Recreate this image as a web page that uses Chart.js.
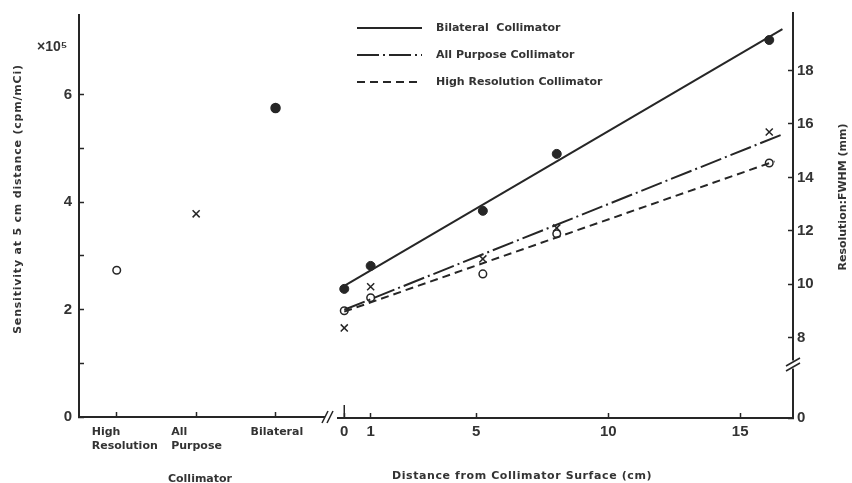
<!DOCTYPE html>
<html>
<head>
<meta charset="utf-8">
<script src="https://cdn.jsdelivr.net/npm/chart.js@4.4.0/dist/chart.umd.min.js"></script>
<style>
  html, body { margin: 0; padding: 0; background: #fff; }
  #wrap { position: relative; width: 852px; height: 483px; }
  #leftBox { position: absolute; left: 0; top: 0; width: 345px; height: 483px; }
  #rightBox { position: absolute; left: 330px; top: 0; width: 522px; height: 483px; }
</style>
</head>
<body>
<div id="wrap">
  <div id="leftBox"><canvas id="leftChart"></canvas></div>
  <div id="rightBox"><canvas id="rightChart"></canvas></div>
</div>
<script>
// left panel: sensitivity per collimator (x10^5 cpm/mCi at 5 cm)
const collimators = [['High', 'Resolution'], ['All', 'Purpose'], ['Bilateral']];
const sensitivity = [2.73, 3.78, 5.75];
const sensitivityTicks = [0, 1, 2, 3, 4, 5, 6];

// right panel: resolution FWHM (mm) vs distance (cm)
const distances = [0, 1, 5.25, 8.05, 16.1];
const bilateralRes = [9.83, 10.69, 12.75, 14.88, 19.14];
const allPurposeRes = [8.37, 9.91, 10.95, 12.11, 15.70];
const highResRes = [9.01, 9.5, 10.39, 11.89, 14.54];

// fitted lines (start / end)
const bilateralFitX = [0, 16.6];
const bilateralFit = [9.94, 19.55];
const allPurposeFitX = [0, 16.55];
const allPurposeFit = [9.05, 15.59];
const highResFitX = [0, 16.3];
const highResFit = [8.98, 14.6];

const distanceTicks = [0, 1, 5, 10, 15];
const resolutionTicks = [8, 10, 12, 14, 16, 18];
const seriesNames = ['Bilateral  Collimator', 'All Purpose Collimator', 'High Resolution Collimator'];

const ink = '#262626';
const txt = '#333';
const numFont = { family: "'Liberation Sans', Arial, sans-serif", size: 15, weight: 'bold' };
const labelFont = "bold 11px 'DejaVu Sans', sans-serif";

function pts(xs, ys) {
  return xs.map((x, i) => ({ x: x, y: ys[i] }));
}

// keep the plot box where the layout padding puts it
function noLabelPad(s) {
  s.paddingTop = 0;
  s.paddingBottom = 0;
}

const leftDecor = {
  id: 'leftDecor',
  afterDraw(chart) {
    const ctx = chart.ctx;
    const xs = chart.scales.x;
    ctx.save();
    ctx.fillStyle = txt;
    ctx.font = labelFont;
    ctx.letterSpacing = '0.8px';
    ctx.textAlign = 'center';
    ctx.textBaseline = 'middle';
    ctx.translate(18, 199);
    ctx.rotate(-Math.PI / 2);
    ctx.fillText('Sensitivity at 5 cm distance (cpm/mCi)', 0, 0);
    ctx.restore();

    ctx.save();
    ctx.fillStyle = txt;
    ctx.font = "bold 14px 'Liberation Sans', sans-serif";
    ctx.textBaseline = 'middle';
    ctx.fillText('×10⁵', 37, 47);
    ctx.font = labelFont;
    ctx.textAlign = 'center';
    ctx.fillText('Collimator', 200, 479);

    // axis break marks
    ctx.strokeStyle = ink;
    ctx.lineWidth = 1.5;
    const yb = xs.top;
    [xs.right + 1, xs.right + 6].forEach(x0 => {
      ctx.beginPath();
      ctx.moveTo(x0 - 3, yb + 6);
      ctx.lineTo(x0 + 3, yb - 6);
      ctx.stroke();
    });
    ctx.restore();
  }
};

new Chart(document.getElementById('leftChart'), {
  type: 'scatter',
  data: {
    datasets: [{
      data: sensitivity.map((v, i) => ({ x: i + 1, y: v })),
      pointStyle: ['circle', 'crossRot', 'circle'],
      pointRadius: [3.8, 5, 4.5],
      backgroundColor: ['#fff', ink, ink],
      borderColor: ink,
      borderWidth: 1.5
    }]
  },
  options: {
    animation: false,
    responsive: true,
    maintainAspectRatio: false,
    layout: { padding: { top: 15, right: 19, left: 0, bottom: 0 } },
    plugins: { legend: { display: false }, tooltip: { enabled: false } },
    scales: {
      x: {
        type: 'linear',
        min: 0.525,
        max: 3.61,
        afterBuildTicks: s => { s.ticks = collimators.map((_, i) => ({ value: i + 1 })); },
        afterFit: s => { s.height = 66; },
        ticks: {
          callback: (v, i) => collimators[i],
          align: 'start',
          labelOffset: -25,
          padding: 13,
          color: txt,
          font: { family: "'DejaVu Sans', sans-serif", size: 11, weight: 'bold', lineHeight: 1.3 },
          maxRotation: 0
        },
        grid: { drawOnChartArea: false, tickLength: -5, tickWidth: 1.5, tickColor: ink },
        border: { color: ink, width: 2 }
      },
      y: {
        min: 0,
        max: 7.48,
        afterBuildTicks: s => { s.ticks = sensitivityTicks.map(v => ({ value: v })); },
        afterFit: s => { s.width = 79; noLabelPad(s); },
        ticks: {
          callback: v => (v % 2 === 0 ? String(v) : ''),
          padding: 12,
          color: txt,
          font: numFont
        },
        grid: { drawOnChartArea: false, tickLength: -5, tickWidth: 1.5, tickColor: ink },
        border: { color: ink, width: 2 }
      }
    }
  },
  plugins: [leftDecor]
});

const rightDecor = {
  id: 'rightDecor',
  afterDraw(chart) {
    const ctx = chart.ctx;
    const xs = chart.scales.x;
    const ys = chart.scales.y;
    ctx.save();

    // legend
    chart.data.datasets.slice(0, 3).forEach((ds, i) => {
      const y = 28 + 27 * i;
      ctx.strokeStyle = ink;
      ctx.lineWidth = 2;
      ctx.setLineDash(ds.borderDash || []);
      ctx.beginPath();
      ctx.moveTo(27, y);
      ctx.lineTo(92, y);
      ctx.stroke();
      ctx.setLineDash([]);
      ctx.fillStyle = txt;
      ctx.font = labelFont;
      ctx.textBaseline = 'middle';
      ctx.fillText(ds.label, 106, y);
    });

    // tall tick at distance 0
    const x0 = xs.getPixelForValue(0);
    ctx.strokeStyle = ink;
    ctx.lineWidth = 1.5;
    ctx.beginPath();
    ctx.moveTo(x0, xs.top);
    ctx.lineTo(x0, xs.top - 13);
    ctx.stroke();

    // right axis break
    const yb = ys.getPixelForValue(7);
    const xa = ys.left;
    ctx.fillStyle = '#fff';
    ctx.fillRect(xa - 3, yb - 4, 6, 8);
    ctx.lineWidth = 1.6;
    [-2.5, 2.5].forEach(d => {
      ctx.beginPath();
      ctx.moveTo(xa - 7, yb + d + 4);
      ctx.lineTo(xa + 7, yb + d - 4);
      ctx.stroke();
    });

    // axis titles
    ctx.fillStyle = txt;
    ctx.font = labelFont;
    ctx.letterSpacing = '0.6px';
    ctx.textAlign = 'center';
    ctx.textBaseline = 'middle';
    ctx.fillText('Distance from Collimator Surface (cm)', 192, 476);
    ctx.letterSpacing = '0px';
    ctx.translate(513, 197);
    ctx.rotate(-Math.PI / 2);
    ctx.fillText('Resolution:FWHM (mm)', 0, 0);
    ctx.restore();
  }
};

new Chart(document.getElementById('rightChart'), {
  type: 'scatter',
  data: {
    datasets: [
      { label: seriesNames[0], data: pts(bilateralFitX, bilateralFit), showLine: true, borderColor: ink, borderWidth: 2, pointRadius: 0 },
      { label: seriesNames[1], data: pts(allPurposeFitX, allPurposeFit), showLine: true, borderColor: ink, borderWidth: 2, borderDash: [22, 4, 2, 4], pointRadius: 0 },
      { label: seriesNames[2], data: pts(highResFitX, highResFit), showLine: true, borderColor: ink, borderWidth: 2, borderDash: [8, 5], pointRadius: 0 },
      { data: pts(distances, bilateralRes), pointStyle: 'circle', pointRadius: 4.5, backgroundColor: ink, borderColor: ink, borderWidth: 1 },
      { data: pts(distances, allPurposeRes), pointStyle: 'crossRot', pointRadius: 5, borderColor: ink, borderWidth: 1.5 },
      { data: pts(distances, highResRes), pointStyle: 'circle', pointRadius: 3.8, backgroundColor: '#fff', borderColor: ink, borderWidth: 1.5 }
    ]
  },
  options: {
    animation: false,
    responsive: true,
    maintainAspectRatio: false,
    layout: { padding: { top: 13, right: 0, left: 6, bottom: 0 } },
    plugins: { legend: { display: false }, tooltip: { enabled: false } },
    scales: {
      x: {
        type: 'linear',
        min: -0.25,
        max: 17,
        afterBuildTicks: s => { s.ticks = distanceTicks.map(v => ({ value: v })); },
        afterFit: s => { s.height = 65; },
        ticks: { padding: 10, color: txt, font: numFont, maxRotation: 0 },
        grid: { drawOnChartArea: false, tickLength: -5, tickWidth: 1.5, tickColor: ink },
        border: { color: ink, width: 2 }
      },
      y: {
        position: 'right',
        min: 5,
        max: 20.15,
        afterBuildTicks: s => { s.ticks = [5].concat(resolutionTicks).map(v => ({ value: v })); },
        afterFit: s => { s.width = 59; noLabelPad(s); },
        ticks: {
          callback: v => (v === 5 ? '0' : String(v)),
          padding: 9,
          color: txt,
          font: numFont
        },
        grid: { drawOnChartArea: false, tickLength: -5, tickWidth: 1.5, tickColor: ink },
        border: { color: ink, width: 2 }
      }
    }
  },
  plugins: [rightDecor]
});
</script>
</body>
</html>
